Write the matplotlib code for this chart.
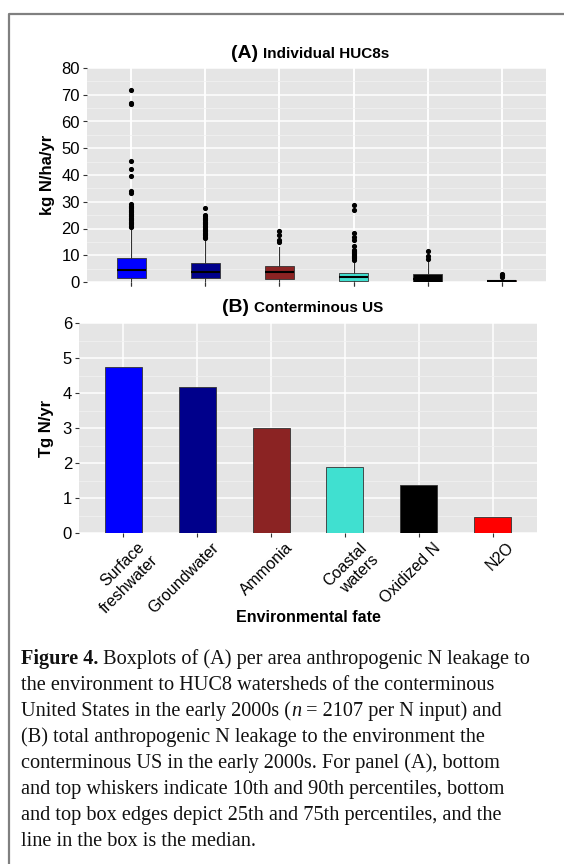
import matplotlib
matplotlib.use("Agg")
import matplotlib.pyplot as plt
import matplotlib.transforms as mtransforms
from matplotlib.lines import Line2D
from matplotlib.ticker import MultipleLocator
import numpy as np

plt.rcParams['font.family'] = ['Liberation Sans', 'DejaVu Sans']

# categories and colours
fates = ["Surface\nfreshwater", "Groundwater", "Ammonia", "Coastal\nwaters", "Oxidized N", "N2O"]
fate_colors = ["#0000FF", "#00008B", "#8B2323", "#40E0D0", "#000000", "#FF0000"]

# panel B: conterminous US totals (Tg N/yr)
total_tg = [4.75, 4.18, 3.00, 1.88, 1.38, 0.45]

# panel A: box stats per HUC8 (kg N/ha/yr)
box_whislo = [0.0, 0.0, 0.0, 0.0, 0.0, 0.0]
box_q1 = [1.5, 1.5, 1.25, 0.3, 0.05, 0.1]
box_med = [4.6, 3.75, 3.75, 1.9, 1.0, 0.5]
box_q3 = [9.0, 7.25, 6.0, 3.4, 3.1, 0.9]
box_whishi = [20.0, 16.0, 13.0, 8.0, 7.5, 1.6]
box_fliers = [
    [20.5, 21, 21.5, 22, 22.5, 23, 23.5, 24, 24.5, 25, 25.5, 26, 26.5, 27, 27.5, 28, 28.5, 29,
     33.4, 34.0, 39.6, 42.2, 45.4, 66.6, 67.1, 71.6],
    [16.5, 17, 17.5, 18, 18.5, 19, 19.5, 20, 20.5, 21, 21.5, 22, 22.5, 23, 23.5, 24, 24.5, 25, 27.75],
    [15.0, 15.6, 17.5, 19.0],
    [8.4, 8.8, 9.2, 9.6, 10.0, 10.4, 10.8, 11.2, 11.6, 11.9, 13.5, 15.6, 16.9, 18.4, 26.9, 28.75],
    [8.75, 9.6, 11.5],
    [1.9, 2.2, 2.5, 2.8, 3.1],
]

W, H = 564, 864
fig = plt.figure(figsize=(W / 100, H / 100), dpi=100)


def px_axes(l, t, r, b):
    return fig.add_axes([l / W, 1 - b / H, (r - l) / W, (b - t) / H])


def gg_style(ax, major, minor):
    ax.set_facecolor("#E5E5E5")
    for s in ax.spines.values():
        s.set_visible(False)
    ax.set_axisbelow(True)
    ax.yaxis.set_major_locator(MultipleLocator(major))
    ax.yaxis.set_minor_locator(MultipleLocator(minor))
    ax.yaxis.grid(True, which="major", color="white", lw=1.1)
    ax.yaxis.grid(True, which="minor", color="#F2F2F2", lw=0.5)
    ax.xaxis.grid(True, which="major", color="white", lw=1.1)
    ax.tick_params(which="major", length=3, width=0.8, color="#333333", labelsize=12,
                   labelcolor="black", pad=2)
    ax.tick_params(which="minor", length=0)
    ax.set_xlim(-0.6, 5.6)
    ax.set_xticks(range(len(fates)))


# (A) boxplots
axA = px_axes(87, 68, 546, 282)
gg_style(axA, 10, 5)
stats = []
for i in range(len(fates)):
    stats.append(dict(med=box_med[i], q1=box_q1[i], q3=box_q3[i], whislo=box_whislo[i],
                      whishi=box_whishi[i], fliers=np.array(box_fliers[i])))
bp = axA.bxp(stats, positions=range(len(fates)), widths=0.4, patch_artist=True, showcaps=False,
             boxprops=dict(edgecolor="#333333", linewidth=0.6),
             medianprops=dict(color="black", linewidth=1.5),
             whiskerprops=dict(color="#333333", linewidth=0.8),
             flierprops=dict(marker="o", markersize=2.7, markerfacecolor="black",
                             markeredgecolor="black"))
for patch, c in zip(bp["boxes"], fate_colors):
    patch.set_facecolor(c)
axA.set_ylim(0, 80)
axA.set_xticklabels([])
axA.set_ylabel("kg N/ha/yr", fontsize=12, fontweight="bold")
axA.yaxis.set_label_coords(-0.07, 0.5)

# (B) bars
axB = px_axes(79, 323, 537, 533)
gg_style(axB, 1, 0.5)
axB.bar(range(len(fates)), total_tg, width=0.5, color=fate_colors, edgecolor="#333333", linewidth=0.6)
axB.set_ylim(0, 6)
axB.set_xticklabels(fates, rotation=45, ha="right", va="top", rotation_mode="anchor",
                    multialignment="right", fontsize=11.5)
shift = mtransforms.ScaledTranslation(14 / 100, 0, fig.dpi_scale_trans)
for lab in axB.get_xticklabels():
    lab.set_transform(lab.get_transform() + shift)
axB.set_ylabel("Tg N/yr", fontsize=12, fontweight="bold")
axB.yaxis.set_label_coords(-0.055, 0.5)
axB.set_xlabel("Environmental fate", fontsize=11.5, fontweight="bold", labelpad=-4)

# panel titles
def ptext(x, y, s, **kw):
    return fig.text(x / W, 1 - y / H, s, **kw)

ptext(231, 53, "(A)", fontsize=14, fontweight="bold", va="center")
ptext(263, 54, "Individual HUC8s", fontsize=11, fontweight="bold", va="center")
ptext(222, 307, "(B)", fontsize=14, fontweight="bold", va="center")
ptext(254, 308, "Conterminous US", fontsize=11, fontweight="bold", va="center")

# frame
fig.add_artist(Line2D([9 / W, 9 / W, 1], [0, 1 - 14 / H, 1 - 14 / H], color="#808080", lw=1.6,
                      transform=fig.transFigure))

# caption
renderer = fig.canvas.get_renderer()
cap_kw = dict(family=["Liberation Serif", "DejaVu Serif"], fontsize=14.6, va="baseline", color="#111111")
caption = [
    [("Figure 4.", {"fontweight": "bold"}), (" Boxplots of (A) per area anthropogenic N leakage to", {})],
    [("the environment to HUC8 watersheds of the conterminous", {})],
    [("United States in the early 2000s (", {}), ("n", {"style": "italic"}),
     (" = 2107 per N input) and", {})],
    [("(B) total anthropogenic N leakage to the environment the", {})],
    [("conterminous US in the early 2000s. For panel (A), bottom", {})],
    [("and top whiskers indicate 10th and 90th percentiles, bottom", {})],
    [("and top box edges depict 25th and 75th percentiles, and the", {})],
    [("line in the box is the median.", {})],
]
y0, dy = 664, 26
for k, parts in enumerate(caption):
    x = 21
    for s, kw in parts:
        t = ptext(x, y0 + k * dy, s, **cap_kw, **kw)
        x += t.get_window_extent(renderer).width

fig.savefig("out.png", dpi=100)
